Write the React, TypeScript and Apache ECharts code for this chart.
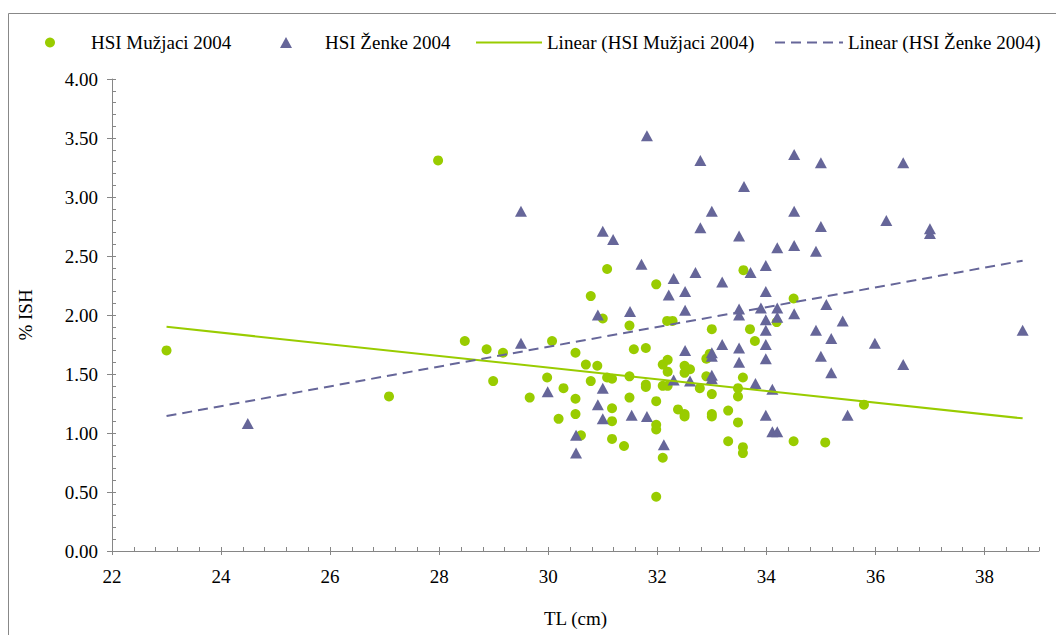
import React, { useEffect, useRef } from "react";
import * as echarts from "echarts";

const FONT = "Times New Roman";

const xTicks = [22, 24, 26, 28, 30, 32, 34, 36, 38];
const yTicks = [0, 0.5, 1, 1.5, 2, 2.5, 3, 3.5, 4];

const seriesNames = [
  "HSI Mužjaci 2004",
  "HSI Ženke 2004",
  "Linear (HSI Mužjaci 2004)",
  "Linear (HSI Ženke 2004)",
];

const maleTL = [
  23.0, 27.08, 27.98, 28.47, 28.87, 28.99, 29.17, 29.66, 30.07, 29.98,
  30.28, 30.19, 30.5, 30.69, 30.9, 30.78, 30.5, 30.5, 30.6, 31.08,
  31.17, 31.17, 31.17, 31.17, 31.39, 31.49, 31.49, 31.57, 31.79, 31.79,
  31.79, 31.98, 31.98, 31.98, 31.98, 32.1, 32.1, 32.19, 32.19, 32.1,
  32.19, 32.38, 32.5, 32.5, 32.6, 32.5, 32.5, 32.78, 32.9, 32.96,
  32.9, 33.0, 33.0, 33.0, 33.0, 33.3, 33.3, 33.48, 33.48, 33.48,
  33.57, 33.57, 33.57, 33.7, 33.79, 34.19, 31.08, 31.98, 30.78, 33.58,
  31.0, 31.49, 32.18, 32.28, 34.5, 35.79, 34.5, 35.08,
];
const maleHSI = [
  1.70, 1.31, 3.31, 1.78, 1.71, 1.44, 1.68, 1.30, 1.78, 1.47,
  1.38, 1.12, 1.68, 1.58, 1.57, 1.44, 1.29, 1.16, 0.98, 1.47,
  1.46, 1.21, 1.10, 0.95, 0.89, 1.48, 1.30, 1.71, 1.72, 1.41,
  1.39, 1.27, 1.07, 1.03, 0.46, 0.79, 1.58, 1.62, 1.52, 1.40,
  1.40, 1.20, 1.57, 1.51, 1.54, 1.16, 1.14, 1.38, 1.63, 1.67,
  1.48, 1.88, 1.33, 1.16, 1.14, 1.19, 0.93, 1.38, 1.31, 1.09,
  1.47, 0.88, 0.83, 1.88, 1.78, 1.94, 2.39, 2.26, 2.16, 2.38,
  1.97, 1.91, 1.95, 1.95, 2.14, 1.24, 0.93, 0.92,
];

const femaleTL = [
  24.49, 29.5, 29.5, 29.99, 30.51, 30.51, 30.91, 30.91, 31.0, 31.19,
  31.0, 31.0, 31.5, 31.53, 31.71, 31.81, 31.81, 32.12, 32.21, 32.3,
  32.3, 32.51, 32.51, 32.51, 32.6, 32.7, 32.79, 32.79, 33.0, 33.0,
  33.0, 33.0, 33.0, 33.19, 33.19, 33.5, 33.5, 33.5, 33.5, 33.5,
  33.59, 33.71, 33.8, 33.9, 33.99, 33.99, 33.99, 33.99, 33.99, 33.99,
  33.99, 34.11, 34.11, 34.2, 34.2, 34.2, 34.2, 34.51, 34.51, 34.51,
  34.51, 34.91, 34.91, 35.0, 35.0, 35.0, 35.1, 35.19, 35.19, 35.4,
  35.49, 35.99, 36.2, 36.51, 36.51, 37.0, 37.0, 38.7,
];
const femaleHSI = [
  1.08, 2.88, 1.76, 1.35, 0.98, 0.83, 2.00, 1.24, 2.71, 2.64,
  1.38, 1.12, 2.03, 1.15, 2.43, 3.52, 1.14, 0.90, 2.17, 2.31,
  1.45, 2.20, 2.04, 1.70, 1.44, 2.36, 3.31, 2.74, 2.88, 1.68,
  1.65, 1.49, 1.46, 2.28, 1.75, 2.67, 2.05, 2.00, 1.72, 1.60,
  3.09, 2.36, 1.42, 2.06, 2.42, 2.20, 1.96, 1.87, 1.75, 1.63,
  1.15, 1.37, 1.01, 1.01, 2.57, 2.06, 1.98, 3.36, 2.88, 2.59,
  2.01, 2.54, 1.87, 3.29, 2.75, 1.65, 2.09, 1.80, 1.51, 1.95,
  1.15, 1.76, 2.80, 3.29, 1.58, 2.73, 2.69, 1.87,
];

const maleTrendTL = [23.0, 38.7];
const maleTrendHSI = [1.9, 1.124];
const femaleTrendTL = [23.0, 38.7];
const femaleTrendHSI = [1.144, 2.46];

const GREEN = "#99CC00";
const PURPLE = "#666699";
const AXIS = "#868686";

const pairs = (xs: number[], ys: number[]) => xs.map((x, i) => [x, ys[i]]);

export default function App() {
  const ref = useRef<HTMLDivElement>(null);

  useEffect(() => {
    document.body.style.margin = "0";
    if (!ref.current) return;
    const chart = echarts.init(ref.current, undefined, { renderer: "svg" });
    const textBase = { fontFamily: FONT, fontSize: 19, color: "#000" };
    const legendBase = {
      orient: "horizontal",
      top: 33,
      padding: 0,
      textStyle: { ...textBase },
      selectedMode: false,
    };
    const hiddenMarker = { opacity: 0, color: "rgba(0,0,0,0)", borderWidth: 0 };
    chart.setOption({
      animation: false,
      backgroundColor: "#fff",
      textStyle: { fontFamily: FONT },
      graphic: [
        {
          type: "rect",
          silent: true,
          shape: { x: 8.5, y: 13.5, width: 1200, height: 800 },
          style: { fill: "none", stroke: "#888", lineWidth: 1 },
        },
      ],
      legend: [
        {
          ...legendBase,
          left: 45,
          itemWidth: 10,
          itemHeight: 10,
          data: [seriesNames[0]],
          textStyle: { ...textBase, padding: [0, 0, 0, 31] },
        },
        {
          ...legendBase,
          left: 280,
          itemWidth: 12,
          itemHeight: 11,
          data: [seriesNames[1]],
          textStyle: { ...textBase, padding: [0, 0, 0, 28] },
        },
        {
          ...legendBase,
          left: 475,
          itemWidth: 66,
          itemHeight: 14,
          itemStyle: hiddenMarker,
          data: [seriesNames[2]],
        },
        {
          ...legendBase,
          left: 774,
          itemWidth: 68,
          itemHeight: 14,
          itemStyle: hiddenMarker,
          data: [seriesNames[3]],
        },
      ],
      grid: { left: 112, right: 17, top: 79, bottom: 84, containLabel: false },
      xAxis: [
        {
          type: "value",
          position: "bottom",
          min: 22,
          max: 39,
          interval: 2,
          axisLine: { show: true, onZero: false, lineStyle: { color: AXIS, width: 1 } },
          axisTick: { show: true, inside: false, length: 4, customValues: xTicks, lineStyle: { color: AXIS } },
          axisLabel: {
            customValues: xTicks,
            formatter: (v: number) => (xTicks.includes(v) ? String(v) : ""),
            margin: 16,
            ...textBase,
          },
          splitLine: { show: false },
          name: "TL (cm)",
          nameLocation: "middle",
          nameGap: 58,
          nameTextStyle: { ...textBase },
        },
        {
          type: "value",
          position: "bottom",
          min: 22,
          max: 39,
          interval: 0.4,
          axisLine: { show: false, onZero: false },
          axisTick: { show: true, inside: true, length: 4, lineStyle: { color: AXIS } },
          axisLabel: { show: false },
          splitLine: { show: false },
        },
      ],
      yAxis: [
        {
          type: "value",
          position: "left",
          min: 0,
          max: 4,
          interval: 0.5,
          axisLine: { show: true, onZero: false, lineStyle: { color: AXIS, width: 1 } },
          axisTick: { show: true, inside: false, length: 5, customValues: yTicks, lineStyle: { color: AXIS } },
          axisLabel: {
            customValues: yTicks,
            formatter: (v: number) => v.toFixed(2),
            margin: 14,
            ...textBase,
          },
          splitLine: { show: false },
          name: "% ISH",
          nameLocation: "middle",
          nameGap: 77,
          nameRotate: 90,
          nameTextStyle: { ...textBase },
        },
        {
          type: "value",
          position: "left",
          min: 0,
          max: 4,
          interval: 0.1,
          axisLine: { show: false, onZero: false },
          axisTick: { show: true, inside: true, length: 4, lineStyle: { color: AXIS } },
          axisLabel: { show: false },
          splitLine: { show: false },
        },
      ],
      series: [
        {
          name: seriesNames[0],
          type: "scatter",
          xAxisIndex: 0,
          yAxisIndex: 0,
          symbol: "circle",
          symbolSize: 10,
          itemStyle: { color: GREEN, opacity: 1 },
          data: pairs(maleTL, maleHSI),
          z: 2,
        },
        {
          name: seriesNames[1],
          type: "scatter",
          xAxisIndex: 0,
          yAxisIndex: 0,
          symbol: "triangle",
          symbolSize: [12, 11],
          itemStyle: { color: PURPLE, opacity: 1 },
          data: pairs(femaleTL, femaleHSI),
          z: 3,
        },
        {
          name: seriesNames[2],
          type: "line",
          xAxisIndex: 0,
          yAxisIndex: 0,
          symbol: "none",
          lineStyle: { color: GREEN, width: 2 },
          itemStyle: { color: GREEN },
          data: pairs(maleTrendTL, maleTrendHSI),
          z: 4,
        },
        {
          name: seriesNames[3],
          type: "line",
          xAxisIndex: 0,
          yAxisIndex: 0,
          symbol: "none",
          lineStyle: { color: PURPLE, width: 2, type: [10, 6] },
          itemStyle: { color: PURPLE },
          data: pairs(femaleTrendTL, femaleTrendHSI),
          z: 4,
        },
      ],
    });
    return () => chart.dispose();
  }, []);

  return <div ref={ref} style={{ width: 1056, height: 635 }} />;
}
